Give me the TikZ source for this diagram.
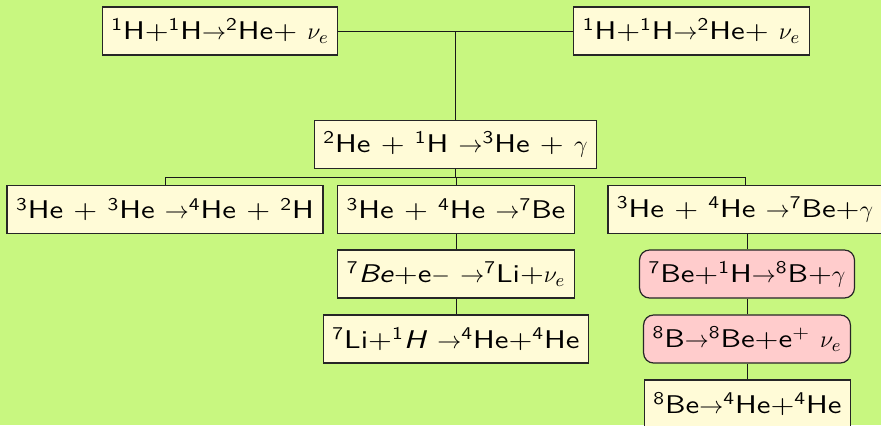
\documentclass[tikz,border=0pt]{standalone}
\usepackage{amsmath,amssymb}
\usepackage{fontspec}
\setsansfont{lmsans10-regular.otf}[FakeStretch=1.2,
  ItalicFont=lmsans10-oblique.otf, BoldFont=lmsans10-bold.otf]
\usepackage{xcolor}
\usepackage{tikz}
\usetikzlibrary{positioning,calc}
\definecolor{slidegreen}{RGB}{200,247,128}
\definecolor{reacyellow}{RGB}{255,251,215}
\definecolor{reacpink}{RGB}{255,204,204}
\newcommand{\iso}[2]{\textsuperscript{#1}#2}
\tikzset{
  reac/.style={draw=black!85, line width=0.6pt, fill=reacyellow, inner xsep=4.5pt,
    minimum height=24pt, font=\sffamily\fontsize{12.8}{15}\selectfont},
  reacb/.style={reac, fill=reacpink, rounded corners=5pt},
  link/.style={draw=black!90, line width=0.5pt}
}

\begin{document}
\begin{tikzpicture}[x=0.5pt, y=-0.5pt]
    % Background
    \fill[slidegreen] (0,0) rectangle (881,425);
    \useasboundingbox (0,0) rectangle (881,425);

    % pp chain, first step
    \node[reac] (ppa) at (220,31) {\iso{1}{H}+\iso{1}{H}$\rightarrow$\iso{2}{He}+ $\nu_e$};
    \node[reac] (ppb) at (691.5,31) {\iso{1}{H}+\iso{1}{H}$\rightarrow$\iso{2}{He}+ $\nu_e$};
    \node[reac] (pd) at (455.5,144.5) {\iso{2}{He} + \iso{1}{H} $\rightarrow$\iso{3}{He} + $\gamma$};

    % Branches
    \node[reac] (hhe) at (165,209.5) {\iso{3}{He} + \iso{3}{He} $\rightarrow$\iso{4}{He} + \iso{2}{H}};
    \node[reac] (ppii) at (456,209.5) {\iso{3}{He} + \iso{4}{He} $\rightarrow$\iso{7}{Be}};
    \node[reac] (ppiii) at (745,209.5) {\iso{3}{He} + \iso{4}{He} $\rightarrow$\iso{7}{Be}+$\gamma$};

    % ppII
    \node[reac] (beec) at (456,274) {\iso{7}{\textit{Be}}+e$-$ $\rightarrow$\iso{7}{Li}+$\nu_e$};
    \node[reac] (lip) at (456,339) {\iso{7}{Li}+\iso{1}{\textit{H}} $\rightarrow$\iso{4}{He}+\iso{4}{He}};

    % ppIII
    \node[reacb] (bep) at (747,274) {\iso{7}{Be}+\iso{1}{H}$\rightarrow$\iso{8}{B}+$\gamma$};
    \node[reacb] (bdecay) at (747,339) {\iso{8}{B}$\rightarrow$\iso{8}{Be}+e\textsuperscript{+} $\nu_e$};
    \node[reac] (bealpha) at (747.5,404) {\iso{8}{Be}$\rightarrow$\iso{4}{He}+\iso{4}{He}};

    % Connectors
    \draw[link] (ppa.east) -- (ppb.west);
    \draw[link] (pd.north) -- (pd.north |- ppa.east);
    \draw[link] (pd.south) -- ++(0,8) coordinate (bus);
    \draw[link] (hhe.north) |- (bus) -| (ppiii.north);
    \draw[link] (ppii.north) -- (ppii.north |- bus);
    \draw[link] (ppii.south) -- (beec.north);
    \draw[link] (lip.north) -- (lip.north |- beec.south);
    \draw[link] (bep.north) -- (bep.north |- ppiii.south);
    \draw[link] (bdecay.north) -- (bdecay.north |- bep.south);
    \draw[link] (bealpha.north) -- (bealpha.north |- bdecay.south);
\end{tikzpicture}
\end{document}
